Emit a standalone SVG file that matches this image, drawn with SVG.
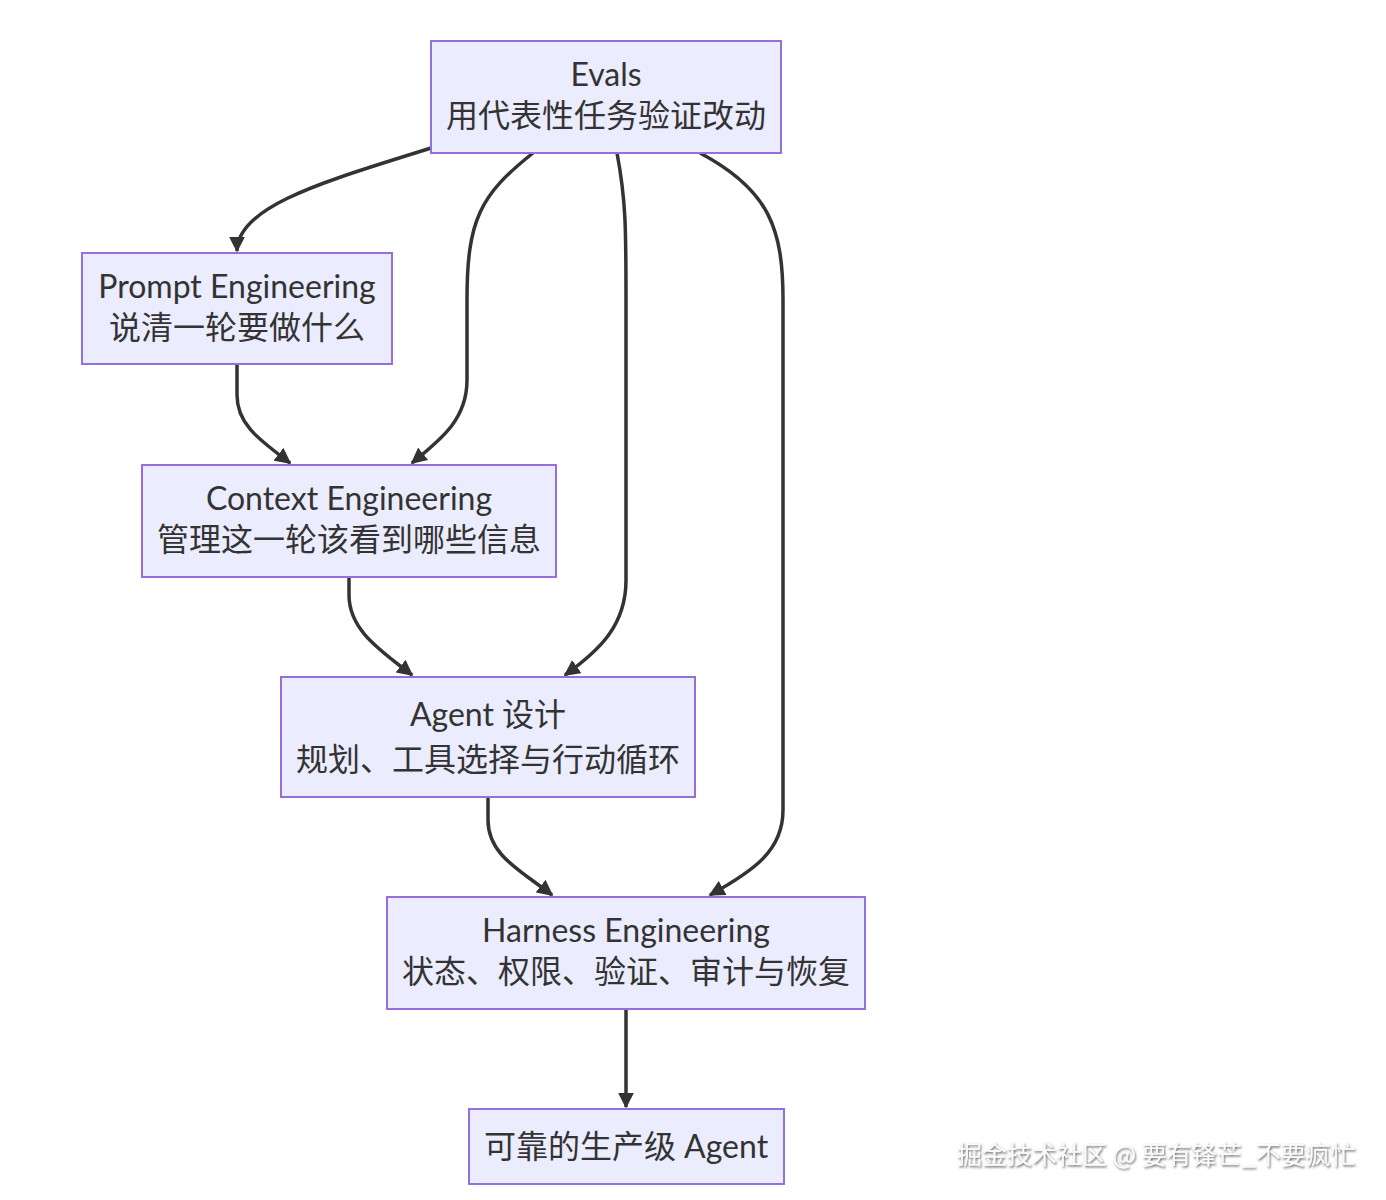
<svg xmlns="http://www.w3.org/2000/svg" width="1386" height="1200" viewBox="0 0 1386 1200">
<style>
.node rect{fill:#ECECFF;stroke:#9370DB;stroke-width:2}
.node text{font-family:"Lato","Noto Sans CJK SC",sans-serif;font-size:32px;fill:#333;text-anchor:middle}
.edges path{fill:none;stroke:#333;stroke-width:3.5}
.wm{font-family:"Noto Sans CJK SC",sans-serif;font-size:25px;fill:#fafafa}
</style>
<defs>
<marker id="ah" viewBox="0 0 10 10" refX="9" refY="5" markerWidth="4.6" markerHeight="4.6" orient="auto" markerUnits="strokeWidth">
<path d="M0,0 L10,5 L0,10 z" fill="#333"/>
</marker>
<filter id="sh" x="-5%" y="-30%" width="110%" height="160%">
<feDropShadow dx="1" dy="1.5" stdDeviation="0.8" flood-color="#555" flood-opacity="0.9"/>
</filter>
</defs>
<rect width="1386" height="1200" fill="#fff"/>
<g class="edges">
<path d="M431,148 C330,180 237,205 237,251" marker-end="url(#ah)"/>
<path d="M533,153 C480,195 467,220 467,300 L467,380 C467,420 440,440 412,463" marker-end="url(#ah)"/>
<path d="M617,153 C626,200 626,230 626,300 L626,580 C626,625 600,650 565,675" marker-end="url(#ah)"/>
<path d="M700,153 C770,190 783,230 783,300 L783,810 C783,850 755,870 710,895" marker-end="url(#ah)"/>
<path d="M237,364 L237,395 C237,425 260,440 290,463" marker-end="url(#ah)"/>
<path d="M349,577 L349,595 C349,630 380,650 412,675" marker-end="url(#ah)"/>
<path d="M488,797 L488,820 C488,855 520,870 552,895" marker-end="url(#ah)"/>
<path d="M626,1009 L626,1107" marker-end="url(#ah)"/>
</g>
<g id="evals" class="node"><rect x="431" y="41" width="350" height="112"/><text x="606" y="86">Evals</text><text x="606" y="127">用代表性任务验证改动</text></g>
<g id="prompt" class="node"><rect x="82" y="253" width="310" height="111"/><text x="237" y="298">Prompt Engineering</text><text x="237" y="339">说清一轮要做什么</text></g>
<g id="context" class="node"><rect x="142" y="465" width="414" height="112"/><text x="349" y="510">Context Engineering</text><text x="349" y="551">管理这一轮该看到哪些信息</text></g>
<g id="agent" class="node"><rect x="281" y="677" width="414" height="120"/><text x="488" y="726">Agent 设计</text><text x="488" y="771">规划、工具选择与行动循环</text></g>
<g id="harness" class="node"><rect x="387" y="897" width="478" height="112"/><text x="626" y="942">Harness Engineering</text><text x="626" y="983">状态、权限、验证、审计与恢复</text></g>
<g id="prod" class="node"><rect x="469" y="1109" width="315" height="75"/><text x="626" y="1158">可靠的生产级 Agent</text></g>
<text class="wm" x="957" y="1164" filter="url(#sh)">掘金技术社区 @ 要有锋芒_不要疯忙</text>
</svg>
